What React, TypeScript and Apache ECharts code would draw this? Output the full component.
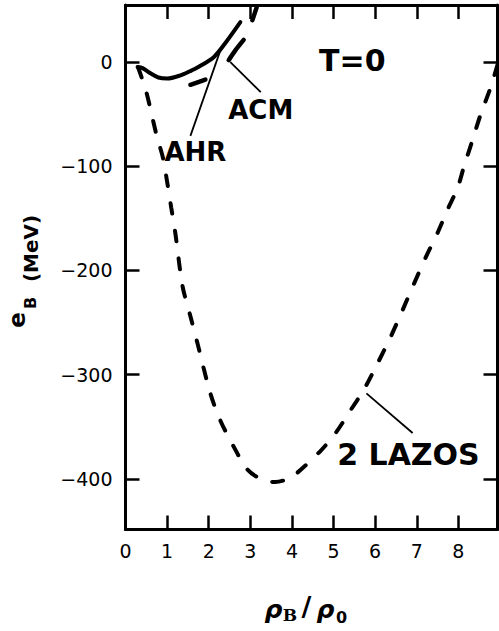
import React, { useEffect, useRef } from "react";
import * as echarts from "echarts";

// Axis ticks
const xTicks = [0, 1, 2, 3, 4, 5, 6, 7, 8];
const yTicks = [0, -100, -200, -300, -400];

// "2 LAZOS" binding energy per baryon (dashed)
const lazosRho = [0.3, 0.5, 0.75, 0.9, 1.0, 1.1, 1.2, 1.37, 1.56, 1.73, 2.04, 2.28, 2.6, 2.93, 3.3, 3.6, 3.9, 4.16, 4.69, 5.05, 5.41, 5.72, 6.06, 6.37, 6.66, 6.92, 7.21, 7.5, 7.76, 7.98, 8.13, 8.34, 8.53, 8.77, 9.05];
const lazosE = [-5, -29, -71, -92, -115, -140, -165, -215, -244, -270, -318, -344, -369, -391, -401, -403, -400, -393, -373, -356, -334, -315, -289, -264, -238, -214, -188, -164, -140, -121, -101, -75, -51, -25, 12];

// AHR (solid)
const ahrRho = [0.29, 0.41, 0.6, 0.79, 1.0, 1.32, 1.55, 1.75, 2.12, 2.4, 2.76];
const ahrE = [-5, -6, -11, -15, -16, -13, -9, -5, 4.5, 18, 38];

// ACM pieces
const acmDashRho = [1.56, 1.92];
const acmDashE = [-22, -17];
const acmRho = [2.48, 2.64, 2.84];
const acmE = [1.6, 11, 21];
const acmTopRho = [3.05, 3.15];
const acmTopE = [40, 52];

// Curve labels and their leader lines (data units)
const labelTexts = ["T=0", "ACM", "AHR", "2 LAZOS"];
const labelRho = [5.45, 3.25, 1.68, 6.8];
const labelE = [1.5, -46, -86, -377];
const leaderRho = [[2.52, 3.25], [2.28, 1.56], [5.79, 6.9]];
const leaderE = [[-0.3, -29], [11, -71], [-318, -356]];

const FONT = "DejaVu Sans";

const pairs = (xs: number[], ys: number[]) => xs.map((x, i) => [x, ys[i]]);

export default function App() {
  const ref = useRef<HTMLDivElement>(null);

  useEffect(() => {
    if (!ref.current) return;
    const chart = echarts.init(ref.current, null, { renderer: "svg" });

    const axisLine = { show: true, onZero: false, lineStyle: { color: "#000", width: 3 } };
    const tickStyle = { color: "#000", width: 2.5 };
    const xBase = { type: "value", min: 0, max: 8.94, splitLine: { show: false } };
    const yBase = { type: "value", min: -448.5, max: 54.5, splitLine: { show: false } };

    const solid = (name: string, data: number[][], width = 4) => ({
      name,
      type: "line",
      data,
      smooth: 0.3,
      symbol: "none",
      lineStyle: { color: "#000", width, cap: "round", join: "round" },
      z: 3,
    });

    const labelSizes = [30, 26, 26, 30];

    chart.setOption({
      animation: false,
      backgroundColor: "#fff",
      grid: { left: 125.5, right: 1.5, top: 5, bottom: 101.5, containLabel: false },
      xAxis: [
        {
          ...xBase,
          position: "bottom",
          axisLine,
          axisTick: { show: true, inside: true, length: 14, lineStyle: tickStyle, customValues: xTicks },
          axisLabel: { customValues: xTicks, fontSize: 19, fontFamily: FONT, color: "#000", margin: 12 },
        },
        {
          ...xBase,
          position: "top",
          axisLine,
          axisTick: { show: true, inside: true, length: 14, lineStyle: tickStyle, customValues: xTicks.slice(1) },
          axisLabel: { show: false },
        },
      ],
      yAxis: [
        {
          ...yBase,
          position: "left",
          axisLine,
          axisTick: { show: true, inside: true, length: 14, lineStyle: tickStyle, customValues: yTicks },
          axisLabel: {
            customValues: yTicks,
            fontSize: 19,
            fontFamily: FONT,
            color: "#000",
            margin: 13,
            formatter: (v: number) => (v < 0 ? "\u2212" + Math.abs(v) : String(v)),
          },
        },
        {
          ...yBase,
          position: "right",
          axisLine,
          axisTick: { show: true, inside: true, length: 14, lineStyle: tickStyle, customValues: yTicks },
          axisLabel: { show: false },
        },
      ],
      series: [
        {
          name: "2 LAZOS",
          type: "line",
          data: pairs(lazosRho, lazosE),
          smooth: 0.3,
          symbol: "none",
          lineStyle: { color: "#000", width: 4, type: [11, 17], cap: "round" },
          z: 3,
        },
        solid("AHR", pairs(ahrRho, ahrE)),
        solid("ACM dash", pairs(acmDashRho, acmDashE), 4.5),
        solid("ACM", pairs(acmRho, acmE), 4.5),
        solid("ACM top", pairs(acmTopRho, acmTopE), 4.5),
        ...leaderRho.map((xs, i) => ({
          name: "leader " + i,
          type: "line",
          data: pairs(xs, leaderE[i]),
          symbol: "none",
          lineStyle: { color: "#000", width: 1.8 },
          z: 2,
        })),
        {
          name: "labels",
          type: "scatter",
          symbolSize: 0,
          silent: true,
          z: 4,
          itemStyle: { opacity: 1 },
          data: labelTexts.map((t, i) => ({
            value: [labelRho[i], labelE[i]],
            label: {
              show: true,
              position: "inside",
              formatter: t,
              color: "#000",
              opacity: 1,
              textBorderWidth: 0,
              fontFamily: FONT,
              fontWeight: "bold",
              fontSize: labelSizes[i],
            },
          })),
        },
      ],
      graphic: [
        // y-axis title: e_B (MeV), reading upward
        { type: "text", x: 17, y: 320, rotation: Math.PI / 2, style: { text: "e", font: `bold 23px '${FONT}'`, fill: "#000", align: "center", verticalAlign: "middle" } },
        { type: "text", x: 30, y: 303, rotation: Math.PI / 2, style: { text: "B", font: `bold 16px '${FONT}'`, fill: "#000", align: "center", verticalAlign: "middle" } },
        { type: "text", x: 31, y: 248.5, rotation: Math.PI / 2, style: { text: "(MeV)", font: `bold 20px '${FONT}'`, fill: "#000", align: "center", verticalAlign: "middle" } },
        // x-axis title: rho_B / rho_0
        { type: "text", x: 273.5, y: 609, style: { text: "ρ", font: `bold italic 25px '${FONT}'`, fill: "#000", align: "center", verticalAlign: "middle" } },
        { type: "text", x: 290, y: 615, style: { text: "B", font: `bold 17px 'DejaVu Serif'`, fill: "#000", align: "center", verticalAlign: "middle" } },
        { type: "text", x: 306.5, y: 606.5, style: { text: "/", font: `bold 27px '${FONT}'`, fill: "#000", align: "center", verticalAlign: "middle" } },
        { type: "text", x: 325.5, y: 609, style: { text: "ρ", font: `bold italic 25px '${FONT}'`, fill: "#000", align: "center", verticalAlign: "middle" } },
        { type: "text", x: 341.5, y: 617, style: { text: "0", font: `bold 16px '${FONT}'`, fill: "#000", align: "center", verticalAlign: "middle" } },
      ],
    });

    return () => chart.dispose();
  }, []);

  return (
    <div
      ref={ref}
      style={{ position: "fixed", left: 0, top: 0, width: 499, height: 631, background: "#fff" }}
    />
  );
}
